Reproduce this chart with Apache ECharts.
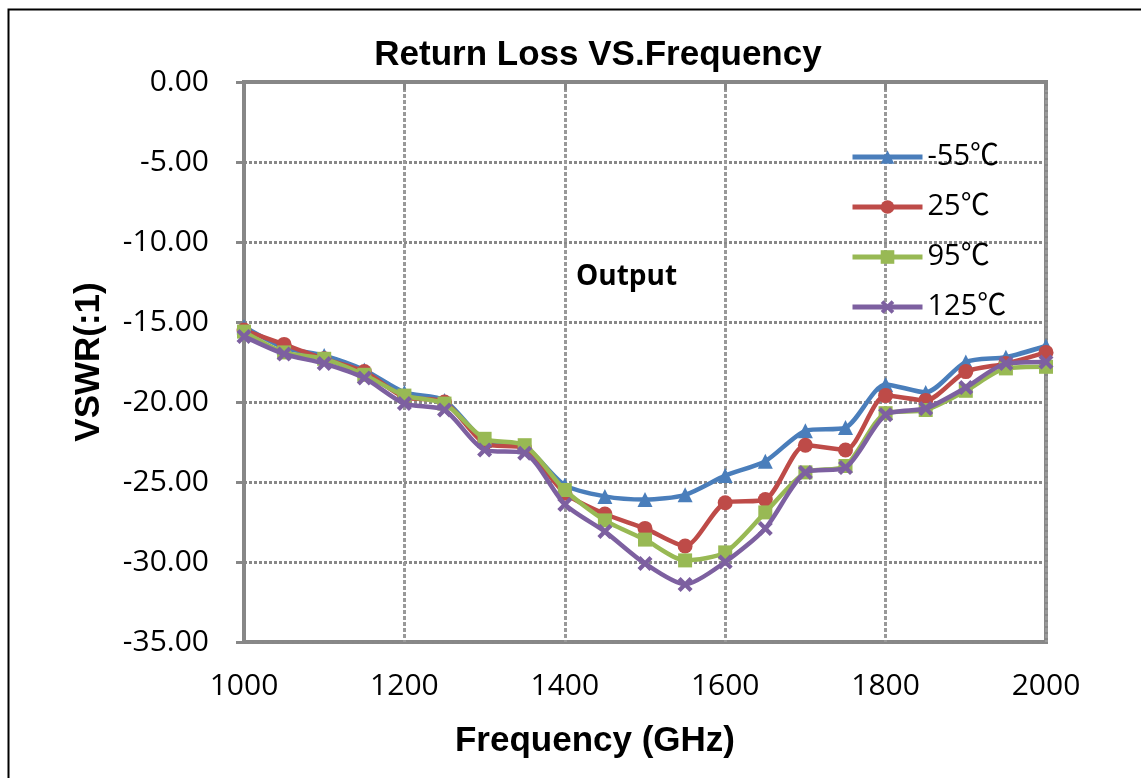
<!DOCTYPE html>
<html>
<head>
<meta charset="utf-8">
<script src="https://cdn.jsdelivr.net/npm/echarts@6/dist/echarts.min.js"></script>
<style>html,body{margin:0;padding:0;background:#fff}#c{width:1141px;height:778px}</style>
</head>
<body>
<div id="c"></div>
<script>
const frequencies = [1000,1050,1100,1150,1200,1250,1300,1350,1400,1450,1500,1550,1600,1650,1700,1750,1800,1850,1900,1950,2000];
const seriesNames = ['-55℃','25℃','95℃','125℃'];
const valsM55 = [-15.3,-16.6,-17.1,-18.0,-19.4,-19.9,-22.4,-22.8,-25.2,-25.9,-26.1,-25.8,-24.6,-23.7,-21.8,-21.6,-18.9,-19.4,-17.5,-17.2,-16.5];
const vals25  = [-15.5,-16.4,-17.3,-18.1,-19.7,-20.0,-22.6,-22.9,-25.7,-27.0,-27.9,-29.0,-26.3,-26.1,-22.7,-23.0,-19.6,-19.9,-18.1,-17.6,-16.9];
const vals95  = [-15.6,-16.9,-17.3,-18.3,-19.6,-20.1,-22.3,-22.7,-25.5,-27.4,-28.6,-29.9,-29.4,-26.9,-24.4,-24.0,-20.7,-20.5,-19.3,-17.9,-17.8];
const vals125 = [-15.9,-17.0,-17.6,-18.5,-20.1,-20.5,-23.0,-23.2,-26.4,-28.1,-30.1,-31.4,-30.0,-27.9,-24.4,-24.1,-20.8,-20.4,-19.1,-17.6,-17.5];
const allVals = [valsM55, vals25, vals95, vals125];

const colors = ['#4A7EBB','#BE4B48','#98B954','#7D60A0'];
const symbols = ['triangle','circle','rect','path://M2,0 L5,3 L8,0 L10,2 L7,5 L10,8 L8,10 L5,7 L2,10 L0,8 L3,5 L0,2 Z'];
const symbolSizes = [15, 15, 14, 15];

const chart = echarts.init(document.getElementById('c'), null, {renderer:'canvas'});
const series = seriesNames.map((n,i)=>({
  name: n,
  type: 'line',
  smooth: 0.25,
  data: frequencies.map((f,j)=>[f, allVals[i][j]]),
  symbol: symbols[i],
  symbolSize: symbolSizes[i],
  showAllSymbol: true,
  lineStyle: {color: colors[i], width: 4.5},
  itemStyle: {color: colors[i]},
  z: 3 + i
}));

chart.setOption({
  animation: false,
  backgroundColor: '#fff',
  title: {
    text: 'Return Loss VS.Frequency',
    left: 593, top: 33, textAlign: 'center',
    textStyle: {fontFamily: 'Liberation Sans', fontWeight: 'bold', fontSize: 35, color: '#000'}
  },
  legend: {
    orient: 'vertical',
    left: 850, top: 142, padding: 0,
    itemWidth: 70, itemHeight: 17, itemGap: 20,
    data: seriesNames,
    lineStyle: {width: 5},
    textStyle: {fontFamily: 'Open Sans, Noto Sans CJK SC', fontSize: 29, color: '#000', lineHeight: 30}
  },
  grid: {
    left: 244, right: 95, top: 82, bottom: 136,
    show: true, borderColor: '#878787', borderWidth: 4, backgroundColor: 'transparent'
  },
  xAxis: {
    type: 'value', min: 1000, max: 2000, interval: 200,
    name: 'Frequency (GHz)', nameLocation: 'middle', nameGap: 82,
    nameTextStyle: {fontFamily: 'Liberation Sans', fontWeight: 'bold', fontSize: 35, color: '#000', padding: [0, 100, 0, 0]},
    axisLine: {show: true, lineStyle: {color: '#878787', width: 4}},
    axisTick: {show: true, length: 8, lineStyle: {color: '#878787', width: 3}},
    axisLabel: {fontFamily: 'Open Sans', fontSize: 30, color: '#000', margin: 29, formatter: v => String(v)},
    splitLine: {show: true, lineStyle: {color: '#999', width: 3, type: [4, 2]}}
  },
  yAxis: {
    type: 'value', min: -35, max: 0, interval: 5,
    name: 'VSWR(:1)', nameLocation: 'middle', nameGap: 137,
    nameTextStyle: {fontFamily: 'Liberation Sans', fontWeight: 'bold', fontSize: 35, color: '#000'},
    axisLine: {show: true, lineStyle: {color: '#878787', width: 4}},
    axisTick: {show: true, length: 8, lineStyle: {color: '#878787', width: 3}},
    axisLabel: {fontFamily: 'Open Sans', fontSize: 30, color: '#000', margin: 35, formatter: v => v.toFixed(2)},
    splitLine: {show: true, lineStyle: {color: '#888', width: 3, type: [3, 2]}}
  },
  graphic: [
    {type: 'rect', left: 6, top: 7, z: 100, silent: true,
     shape: {width: 1200, height: 900}, style: {fill: 'none', stroke: '#000', lineWidth: 2}},
    {type: 'text', left: 576, top: 263, z: 100,
     style: {text: 'Output', fontFamily: 'Open Sans', fontWeight: 'bold', fontSize: 28, fill: '#000'}}
  ],
  series: series
});
</script>
</body>
</html>
